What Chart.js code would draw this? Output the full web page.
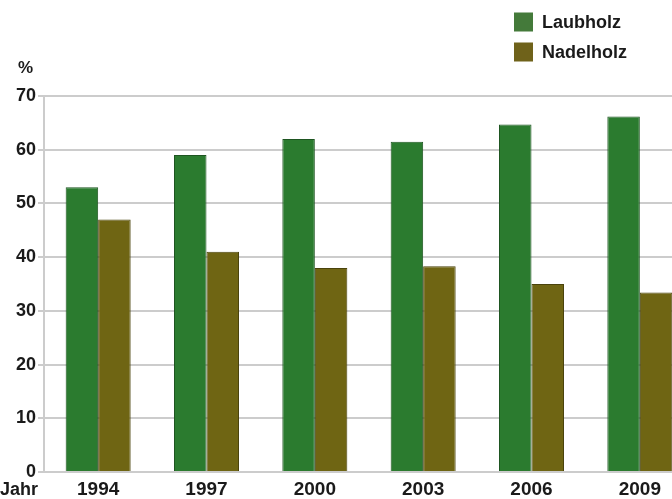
<!DOCTYPE html>
<html lang="de">
  <head>
    <meta charset="UTF-8">
    <title>Laubholz / Nadelholz</title>
    <script src="https://cdn.jsdelivr.net/npm/chart.js@4"></script>
    <style>
      html, body { margin: 0; padding: 0; overflow: hidden; background: #fff; }
      #wrap { position: relative; width: 694px; height: 499px; }
    </style>
  </head>
  <body>
    <div id="wrap"><canvas id="chart"></canvas></div>
    <script type="text/javascript">
      const years = ['1994', '1997', '2000', '2003', '2006', '2009']
      const laubholz = [53, 59, 62, 61.5, 64.7, 66.2]
      const nadelholz = [47, 41, 38, 38.3, 35, 33.4]
      const yTicks = [0, 10, 20, 30, 40, 50, 60, 70]

      const FONT = "'Liberation Sans', Arial, sans-serif"
      const TEXT = '#1a1a1a'

      // legend top right + axis captions
      const extras = {
        id: 'extras',
        afterDraw(chart) {
          const ctx = chart.ctx
          ctx.save()
          ctx.font = 'bold 18px ' + FONT
          ctx.fillStyle = TEXT
          ctx.textBaseline = 'middle'
          chart.data.datasets.forEach((ds, i) => {
            const y = 22 + i * 30
            ctx.fillStyle = ds.legendColor
            ctx.fillRect(514, y - 9.5, 19, 19)
            ctx.fillStyle = TEXT
            ctx.fillText(ds.label, 542, y + 1)
          })
          ctx.font = 'bold 17px ' + FONT
          ctx.fillText('%', 18, 68)
          ctx.font = 'bold 18px ' + FONT
          ctx.fillText('Jahr', 0, 490)
          ctx.restore()
        }
      }

      const ctx = document.getElementById('chart').getContext('2d')
      const chart = new Chart(ctx, {
        type: 'bar',
        data: {
          labels: years,
          datasets: [
            {
              label: 'Laubholz',
              data: laubholz,
              backgroundColor: '#2b7b2f',
              borderColor: '#1e5521',
              legendColor: '#447a3a',
              borderWidth: 1,
              borderSkipped: 'bottom',
              barPercentage: 1,
              categoryPercentage: 0.6
            },
            {
              label: 'Nadelholz',
              data: nadelholz,
              backgroundColor: '#6f6513',
              borderColor: '#4a430c',
              legendColor: '#6f621a',
              borderWidth: 1,
              borderSkipped: 'bottom',
              barPercentage: 1,
              categoryPercentage: 0.6
            }
          ]
        },
        options: {
          responsive: true,
          maintainAspectRatio: false,
          animation: false,
          layout: { padding: { top: 96, left: 0, right: 0, bottom: 0 } },
          plugins: {
            legend: { display: false },
            tooltip: { enabled: false }
          },
          scales: {
            x: {
              grid: { display: false, drawTicks: false },
              border: { display: false },
              ticks: {
                color: TEXT,
                padding: 6,
                font: { family: FONT, size: 19, weight: 'bold' }
              },
              afterFit(scale) { scale.height = 27 }
            },
            y: {
              min: 0,
              max: 70,
              afterBuildTicks(scale) { scale.ticks = yTicks.map(v => ({ value: v })) },
              grid: { color: '#cccccc', lineWidth: 2, tickLength: 6 },
              border: { display: true, color: '#cccccc', width: 2 },
              ticks: {
                color: TEXT,
                padding: 2,
                font: { family: FONT, size: 18, weight: 'bold' }
              },
              afterFit(scale) { scale.width = 44 }
            }
          }
        },
        plugins: [extras]
      })
    </script>
  </body>
</html>
